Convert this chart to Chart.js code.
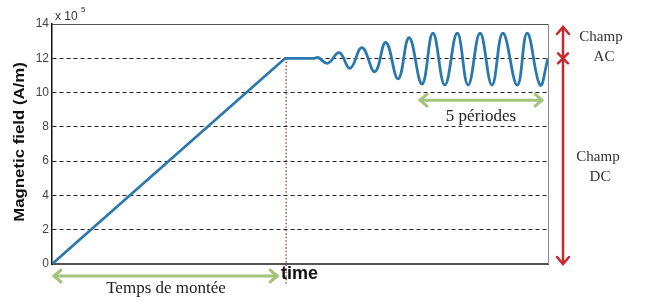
<!DOCTYPE html>
<html><head><meta charset="utf-8">
<script src="https://cdn.jsdelivr.net/npm/chart.js@4"></script>
<style>html,body{margin:0;padding:0;background:#fff}</style>
</head><body>
<canvas id="c" width="650" height="301"></canvas>
<script>
// ---- data ----
const yTicks = [0, 2, 4, 6, 8, 10, 12, 14];
const rampTime  = [0, 47, 53];
const rampField = [0, 12, 12];
const acTime  = [53, 53.6, 55.6, 57.9, 60.1, 62.5, 65.1, 67.3, 69.8, 72.0, 74.6, 76.8, 79.2, 81.7, 83.9, 86.3, 88.7, 90.9, 93.8, 95.8, 98.4, 100];
const acField = [12.0, 12.05, 11.71, 12.33, 11.42, 12.62, 11.22, 12.93, 10.8, 13.2, 10.5, 13.46, 10.44, 13.46, 10.44, 13.46, 10.44, 13.46, 10.44, 13.46, 10.44, 12.0];
const riseTime = 47;
const periodsSpan = [74.2, 98.8];
const dcLevel = 12;
const yLabel = 'Magnetic field (A/m)';
const xLabel = 'time';

const BLUE = '#2a78ae', GREEN = '#a3c47a', RED = '#c8282e';
const sans = '"Liberation Sans", Arial, sans-serif';
const serif = '"Liberation Serif", "Times New Roman", serif';

function arrowHead(ctx, x, y, dx, dy, len, half) {
  const px = -dy, py = dx;
  ctx.beginPath();
  ctx.moveTo(x - dx * len + px * half, y - dy * len + py * half);
  ctx.lineTo(x, y);
  ctx.lineTo(x - dx * len - px * half, y - dy * len - py * half);
  ctx.stroke();
}
function dblArrow(ctx, x1, y1, x2, y2, color, w) {
  const L = Math.hypot(x2 - x1, y2 - y1), dx = (x2 - x1) / L, dy = (y2 - y1) / L;
  ctx.save();
  ctx.strokeStyle = color; ctx.lineWidth = w; ctx.lineCap = 'round'; ctx.lineJoin = 'round';
  ctx.beginPath(); ctx.moveTo(x1, y1); ctx.lineTo(x2, y2); ctx.stroke();
  arrowHead(ctx, x2, y2, dx, dy, 7, 6);
  arrowHead(ctx, x1, y1, -dx, -dy, 7, 6);
  ctx.restore();
}

const deco = {
  id: 'deco',
  beforeDatasetsDraw(chart) {
    const {ctx, chartArea: a, scales: {x, y}} = chart;
    const xr = x.getPixelForValue(riseTime);
    ctx.save();
    ctx.strokeStyle = '#9a2a2a'; ctx.lineWidth = 1.2; ctx.setLineDash([1.5, 2]);
    ctx.beginPath(); ctx.moveTo(xr + 1, y.getPixelForValue(dcLevel)); ctx.lineTo(xr + 1, a.bottom + 22); ctx.stroke();
    ctx.restore();
  },
  afterDraw(chart) {
    const {ctx, chartArea: a, scales: {x, y}} = chart;
    ctx.save();
    ctx.strokeStyle = '#555'; ctx.lineWidth = 1;
    ctx.beginPath(); ctx.moveTo(a.left, a.top + 0.5); ctx.lineTo(a.right, a.top + 0.5); ctx.stroke();
    ctx.strokeStyle = '#888';
    ctx.beginPath(); ctx.moveTo(a.right + 0.5, a.top); ctx.lineTo(a.right + 0.5, a.bottom); ctx.stroke();

    // exponent
    ctx.fillStyle = '#333'; ctx.textBaseline = 'alphabetic'; ctx.textAlign = 'left';
    ctx.font = '12px ' + sans;
    ctx.fillText('x 10', a.left + 3, a.top - 4);
    ctx.font = '8px ' + sans;
    ctx.fillText('5', a.left + 29, a.top - 12);

    // y title
    ctx.save();
    ctx.translate(20, 142);
    ctx.rotate(-Math.PI / 2);
    ctx.scale(1.2, 1);
    ctx.font = 'bold 14px ' + sans; ctx.fillStyle = '#111';
    ctx.textAlign = 'center'; ctx.textBaseline = 'middle';
    ctx.fillText(yLabel, 0, 0);
    ctx.restore();

    // x label
    ctx.font = 'bold 18px ' + sans; ctx.fillStyle = '#111';
    ctx.textAlign = 'left'; ctx.textBaseline = 'middle';
    ctx.fillText(xLabel, x.getPixelForValue(riseTime) - 4, a.bottom + 10);

    // rise-time arrow
    const ay = a.bottom + 12;
    dblArrow(ctx, a.left + 2, ay, x.getPixelForValue(riseTime) - 8, ay, GREEN, 3);
    ctx.font = '17px ' + serif; ctx.fillStyle = '#222'; ctx.textAlign = 'center'; ctx.textBaseline = 'middle';
    ctx.fillText('Temps de montée', 166, a.bottom + 25);

    // 5 periods arrow
    const py = y.getPixelForValue(9.5) - 1;
    const p0 = x.getPixelForValue(periodsSpan[0]), p1 = x.getPixelForValue(periodsSpan[1]);
    dblArrow(ctx, p0, py, p1, py, GREEN, 3);
    ctx.fillText('5 périodes', (p0 + p1) / 2, py + 16);

    // red arrows
    const rx = a.right + 15;
    const yTop = a.top + 3, yMid = y.getPixelForValue(dcLevel), yBot = a.bottom;
    ctx.strokeStyle = RED; ctx.lineWidth = 2.5; ctx.lineCap = 'round';
    ctx.beginPath(); ctx.moveTo(rx, yTop); ctx.lineTo(rx, yBot); ctx.stroke();
    arrowHead(ctx, rx, yTop, 0, -1, 7, 6);
    arrowHead(ctx, rx, yBot, 0, 1, 7, 6);
    ctx.beginPath();
    ctx.moveTo(rx - 5, yMid - 5); ctx.lineTo(rx + 5, yMid + 5);
    ctx.moveTo(rx + 5, yMid - 5); ctx.lineTo(rx - 5, yMid + 5);
    ctx.stroke();

    ctx.font = '15px ' + serif; ctx.fillStyle = '#333'; ctx.textAlign = 'center'; ctx.textBaseline = 'middle';
    ctx.fillText('Champ', 601, 37);
    ctx.fillText('AC', 604, 57);
    ctx.fillText('Champ', 598, 157);
    ctx.fillText('DC', 600, 177);
    ctx.restore();
  }
};

new Chart(document.getElementById('c'), {
  type: 'line',
  data: {
    datasets: [
      { data: rampTime.map((t, i) => ({x: t, y: rampField[i]})), borderColor: BLUE, borderWidth: 2.8, pointRadius: 0, tension: 0 },
      { data: acTime.map((t, i) => ({x: t, y: acField[i]})), borderColor: BLUE, borderWidth: 2.8, pointRadius: 0, tension: 0.42 }
    ]
  },
  options: {
    responsive: false, animation: false, events: [],
    layout: { padding: { left: 0, top: 24, right: 102, bottom: 37 } },
    plugins: { legend: { display: false }, tooltip: { enabled: false } },
    scales: {
      x: {
        type: 'linear', min: 0, max: 100,
        ticks: { display: false },
        grid: { display: false, drawTicks: false },
        border: { display: true, color: '#555', width: 2 },
        afterFit(s) { s.height = 0; }
      },
      y: {
        min: 0, max: 14,
        afterBuildTicks(s) { s.ticks = yTicks.map(v => ({value: v})); },
        ticks: { color: '#444', font: { size: 12, family: sans }, padding: 3 },
        grid: { drawTicks: false, lineWidth: 1, color: c => (c.tick && (c.tick.value === 0 || c.tick.value === 14)) ? 'rgba(0,0,0,0)' : '#222' },
        border: { display: true, color: '#111', width: 1.5, dash: [4, 3] },
        afterFit(s) { s.width = 52; }
      }
    }
  },
  plugins: [deco]
});
</script>
</body></html>
